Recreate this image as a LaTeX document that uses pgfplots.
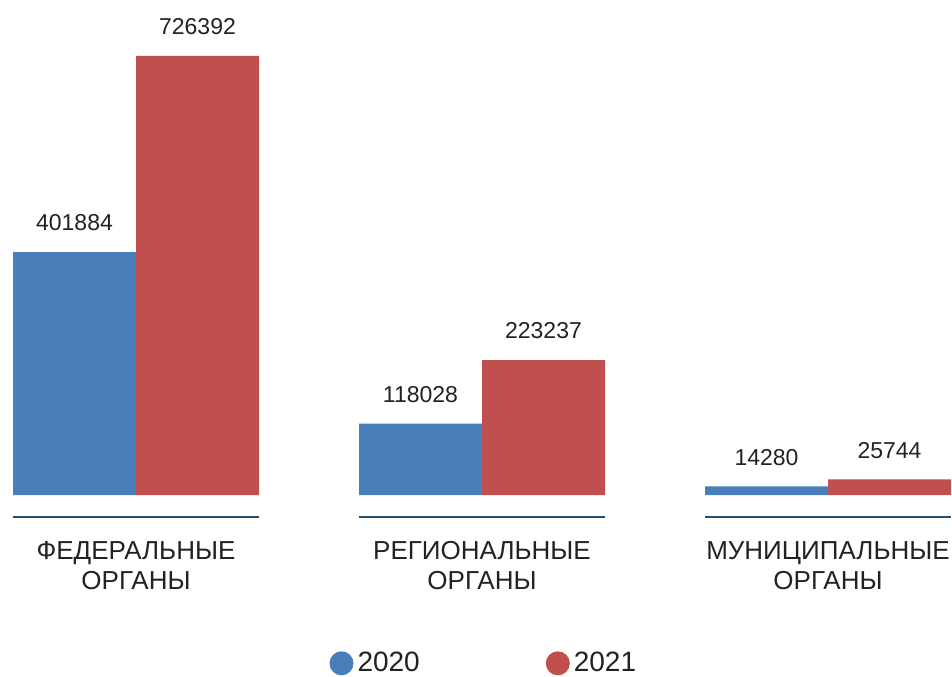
\documentclass[border=0pt]{standalone}
\usepackage{pgfplots}
\pgfplotsset{compat=1.18}
\usepackage{fontspec}
\setmainfont{Liberation Sans}
\definecolor{cblue}{HTML}{4A7EBB}
\definecolor{cred}{HTML}{C0504D}
\definecolor{cline}{HTML}{24506E}
\definecolor{ctext}{HTML}{222222}
\begin{document}
\begin{tikzpicture}
\begin{axis}[
  name=ax,
  scale only axis,
  width=469pt, height=247.5pt,
  xmin=-0.3555, xmax=2.3555,
  ymin=0, ymax=819048,
  ybar=0pt, bar width=61.5pt,
  clip=false,
  axis line style={draw=none},
  ytick=\empty,
  xtick={0,1,2},
  xtick style={draw=none},
  xticklabels={{ФЕДЕРАЛЬНЫЕ\\ОРГАНЫ},{РЕГИОНАЛЬНЫЕ\\ОРГАНЫ},{МУНИЦИПАЛЬНЫЕ\\ОРГАНЫ}},
  xticklabel style={align=center, font=\fontsize{13}{15}\selectfont, text=ctext, yshift=-15.5pt},
  /pgf/number format/assume math mode=true,
  nodes near coords={\pgfmathprintnumber[fixed,precision=0,1000 sep={}]{\pgfplotspointmeta}},
  every node near coord/.append style={font=\fontsize{11.5}{14}\selectfont, text=ctext, yshift=7pt},
  legend columns=2,
  legend style={at={(0.503,-0.34)}, anchor=center, draw=none, font=\fontsize{14}{16}\selectfont, text=ctext,
    /tikz/every even column/.append style={column sep=61pt}},
  legend image code/.code={\fill[#1] (2pt,0pt) circle (6pt);},
]
\addplot[fill=cblue, draw=none] coordinates {(0,401884) (1,118028) (2,14280)};
\addplot[fill=cred, draw=none] coordinates {(0,726392) (1,223237) (2,25744)};
\legend{2020,2021}
\draw[cline, line width=1pt] (axis cs:-0.3555,-36400) -- (axis cs:0.3555,-36400);
\draw[cline, line width=1pt] (axis cs:0.6445,-36400) -- (axis cs:1.3555,-36400);
\draw[cline, line width=1pt] (axis cs:1.6445,-36400) -- (axis cs:2.3555,-36400);
\coordinate (BL) at (rel axis cs:0,0);
\coordinate (TR) at (rel axis cs:1,1);
\end{axis}
\pgfresetboundingbox
\path ([shift={(-6.5pt,-90.5pt)}]BL) rectangle ([shift={(0.5pt,0pt)}]TR);
\end{tikzpicture}
\end{document}
